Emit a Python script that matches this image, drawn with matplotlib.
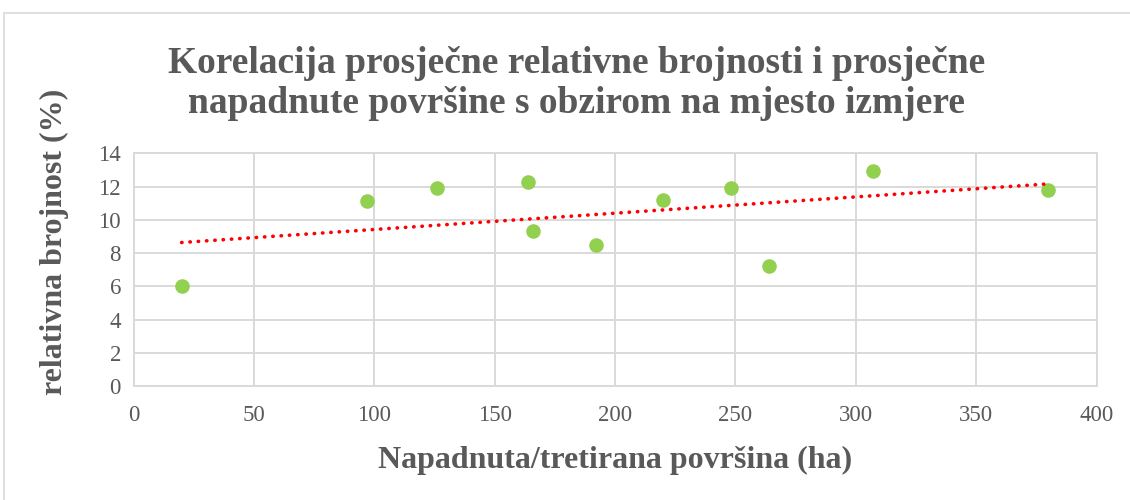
import numpy as np
import matplotlib
matplotlib.use("Agg")
import matplotlib.pyplot as plt
from matplotlib.patches import Rectangle

# Data
povrsina = [20, 97, 126, 164, 166, 192, 220, 248, 264, 307, 380]
brojnost = [6.0, 11.15, 11.9, 12.3, 9.35, 8.5, 11.2, 11.95, 7.2, 12.95, 11.8]
x_ticks = [0, 50, 100, 150, 200, 250, 300, 350, 400]
y_ticks = [0, 2, 4, 6, 8, 10, 12, 14]

title = "Korelacija prosječne relativne brojnosti i prosječne\nnapadnute površine s obzirom na mjesto izmjere"
xlabel = "Napadnuta/tretirana površina (ha)"
ylabel = "relativna brojnost (%)"

plt.rcParams['font.family'] = ['Liberation Serif', 'DejaVu Serif']
gray = '#595959'
gridc = '#d9d9d9'

fig = plt.figure(figsize=(11.3, 5.0), dpi=100)
fig.patches.append(Rectangle((4/1130, -0.1), 1.2, (500-13)/500 + 0.1, transform=fig.transFigure,
                             fill=False, edgecolor=gridc, linewidth=1.2))
ax = fig.add_axes([133.5/1130, 1-386/500, (1096.5-133.5)/1130, (386-153.5)/500])

ax.set_xlim(0, 400)
ax.set_ylim(0, 14)
ax.set_xticks(x_ticks)
ax.set_yticks(y_ticks)
ax.grid(True, color=gridc, linewidth=1.4)
ax.set_axisbelow(True)
for s in ax.spines.values():
    s.set_color(gridc)
    s.set_linewidth(1.4)
ax.tick_params(length=0, labelsize=16.5, colors=gray)
ax.tick_params(axis='x', pad=14)
ax.tick_params(axis='y', pad=9)

x = np.array(povrsina, dtype=float)
y = np.array(brojnost, dtype=float)
ax.scatter(x, y, s=110, color='#92d050', zorder=3, linewidths=0)
k, b = np.polyfit(x, y, 1)
xx = np.array([x.min(), x.max()])
ax.plot(xx, k*xx + b, color='#ff0000', linestyle=(0, (0.1, 2.2)), linewidth=2.6,
        dash_capstyle='round', zorder=4)

ax.set_xlabel(xlabel, fontsize=23, fontweight='bold', color=gray, labelpad=14)
ax.set_ylabel(ylabel, fontsize=23, fontweight='bold', color=gray)
ax.yaxis.set_label_coords(-0.067, 0.62)
fig.text(0.5106, 0.758, title, ha='center', va='bottom', fontsize=27, fontweight='bold',
         color=gray, linespacing=1.18)

fig.savefig('out.png', dpi=100, facecolor='white')
